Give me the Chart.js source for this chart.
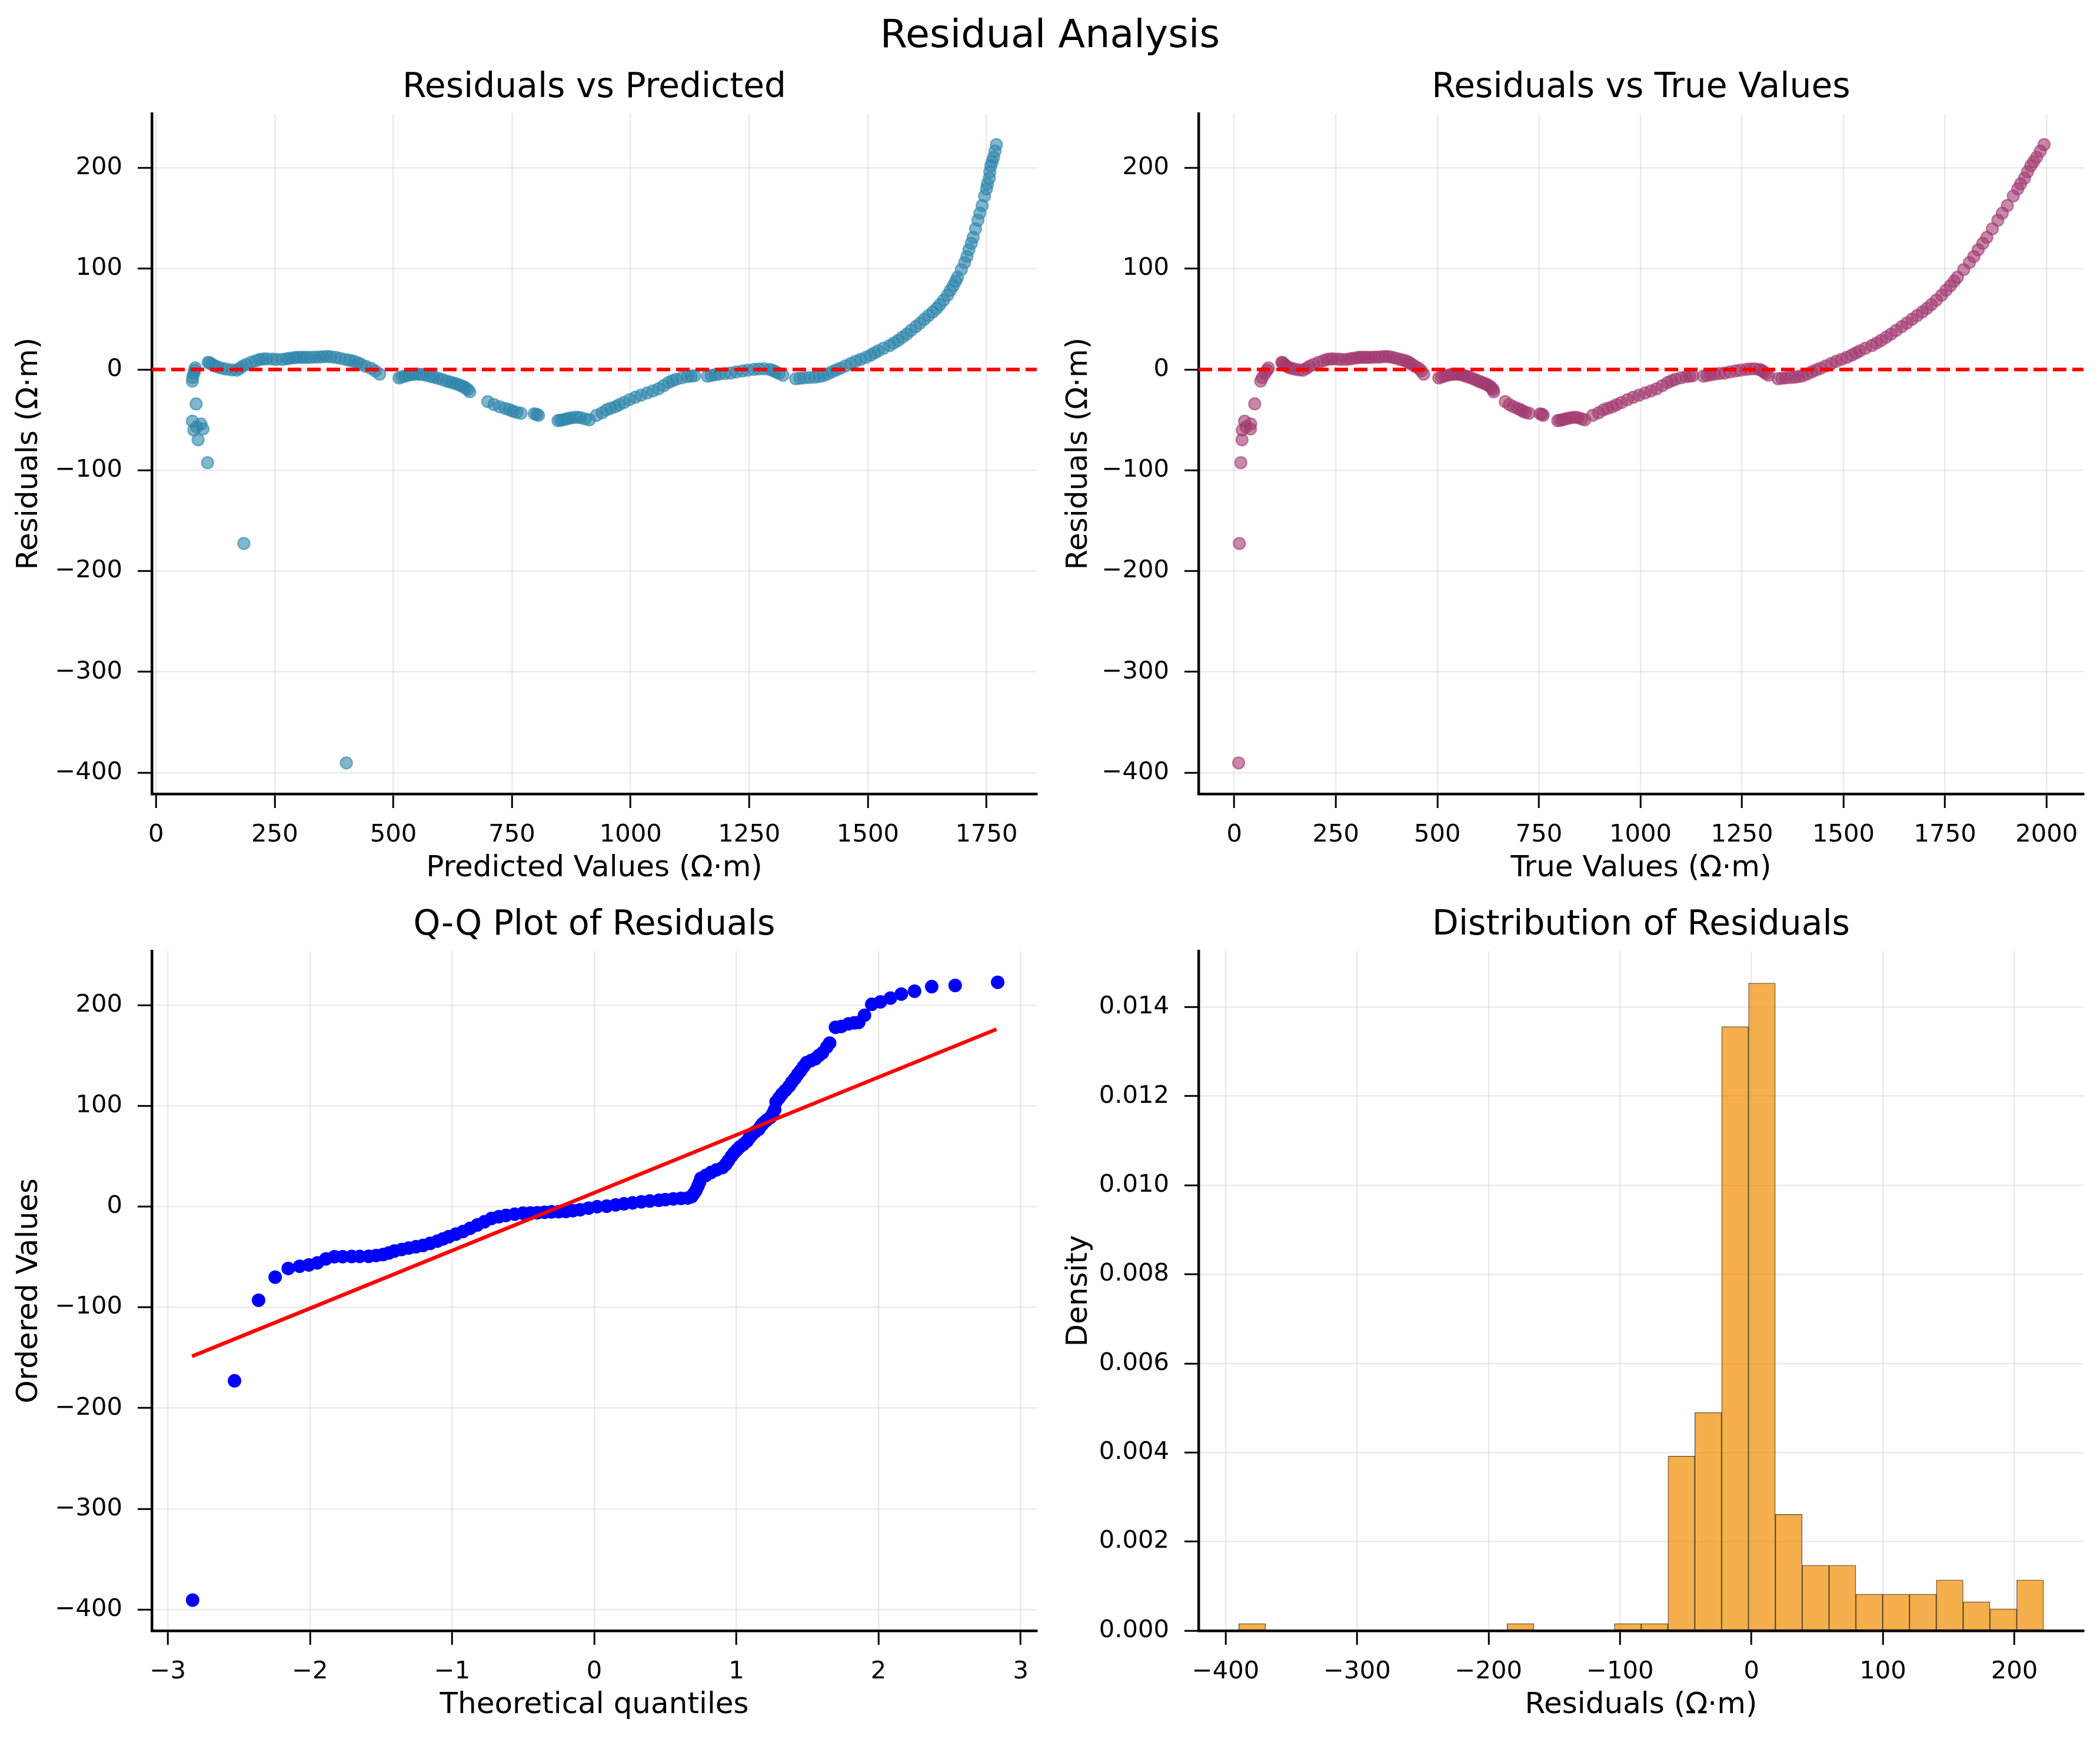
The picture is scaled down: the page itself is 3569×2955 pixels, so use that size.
<!DOCTYPE html>
<html>
<head>
<meta charset="utf-8">
<title>Residual Analysis</title>
<script src="https://cdn.jsdelivr.net/npm/chart.js@4.4.1/dist/chart.umd.min.js"></script>
<style>
  body { margin: 0; background: #fff; width: 3569px; height: 2955px; position: relative; overflow: hidden; }
  #suptitle { position: absolute; left: 0; top: 24px; width: 3569px; text-align: center;
              font: 66.7px/66.7px 'DejaVu Sans', sans-serif; color: #000; }
  canvas { position: absolute; }
</style>
</head>
<body>
<div id="suptitle">Residual Analysis</div>
<canvas id="c1" width="1782" height="1424" style="left:0;top:90px;width:1782px;height:1424px"></canvas>
<canvas id="c2" width="1777" height="1424" style="left:1784px;top:90px;width:1777px;height:1424px"></canvas>
<canvas id="c3" width="1782" height="1423" style="left:0;top:1513px;width:1782px;height:1423px"></canvas>
<canvas id="c4" width="1777" height="1423" style="left:1784px;top:1513px;width:1777px;height:1423px"></canvas>
<script>
// predicted value and residual of each sample
const predicted = [
  76.5, 77, 79.6, 81.4, 82.6, 84.4, 76.5, 79.6, 85.6, 94.6, 98.8, 88.6, 108.5, 185, 401,
  109.7, 113, 118, 124, 131, 140, 149, 160, 170, 176, 182, 190, 200, 210, 218, 226, 233, 245,
  254, 266, 275, 281, 290, 296, 304, 311, 318, 326, 335, 344, 352, 360, 368, 378, 388, 399,
  408, 417, 425, 432, 442, 453, 462, 471,
  512, 518, 525, 533, 540, 546, 554, 561, 570, 578, 585, 594, 603, 612, 620, 627, 634, 641,
  647, 652, 657, 661,
  699, 712, 724, 736, 745, 752, 760, 769, 797, 802, 806,
  847, 852, 858, 864, 870, 878, 886, 894, 904, 913, 928, 940, 949, 958, 968, 976, 986, 998,
  1010, 1022, 1035, 1047, 1059, 1070, 1080, 1088, 1096, 1108, 1120, 1128, 1135,
  1162, 1170, 1178, 1187, 1199, 1211, 1223, 1236, 1247, 1260, 1270, 1281, 1293, 1300, 1306,
  1313, 1321, 1348, 1357, 1366, 1377, 1388, 1397, 1406, 1415, 1424, 1433, 1442, 1453, 1464,
  1474, 1485, 1496, 1506, 1514, 1522, 1533, 1546, 1555, 1564, 1573, 1582, 1591, 1601, 1610,
  1619, 1628, 1637, 1645, 1652, 1660, 1668, 1674, 1680, 1685, 1689, 1697, 1704, 1709, 1713,
  1718, 1722, 1727, 1732, 1736, 1741, 1746, 1750, 1752, 1756, 1757, 1759, 1762, 1765, 1768, 1771
];
const residuals = [
  -11.5, -8, -4, -0.8, 1.5, -34.2, -51.3, -60.1, -57, -54.2, -59, -69.8, -92.5, -172.6, -390.3,
  7, 6.5, 5, 3.5, 2.2, 1, 0.2, -0.5, -0.8, 1, 3, 5, 7, 8.5, 9.9, 10.4, 10.5, 10.2,
  9.9, 9.9, 10.5, 10.9, 11.5, 11.9, 12, 11.9, 12, 12, 12.2, 12.3, 12.6, 12.9, 12.5, 11.9, 11, 9.9,
  9, 8, 6.5, 5.1, 3, 1.2, -1.5, -4.7,
  -8.5, -7.5, -6.6, -5.5, -4.9, -4.7, -4.8, -5, -5.8, -6.8, -7.6, -8.8, -10, -11.5, -12.5, -13.5, -14.4, -15.8,
  -17, -18.3, -20, -22.2,
  -31.9, -34.8, -37, -38.7, -40, -41.5, -42.6, -43.5, -44, -44.5, -45.5,
  -50.8, -50.3, -50, -49.2, -48.4, -47.8, -47.4, -47.8, -49, -50, -45.5, -43, -40.1, -38.5, -37, -35, -32.8, -30,
  -27.6, -25.5, -23.4, -21.3, -19.2, -16, -13, -11.3, -9.8, -8.3, -7.1, -6.6, -6.3,
  -6.7, -6, -5.3, -4.6, -4.1, -3.6, -2.5, -1.5, -0.7, 0, 0.5, 0.6, 0, -1, -2.5,
  -4, -5.7, -9.2, -8.8, -8.4, -8, -7.8, -7, -6.3, -4.5, -2.5, -0.6, 1.2, 3.5, 5.8,
  8, 10, 12, 14.2, 16.3, 18.4, 21, 23.6, 26.2, 28.8, 32, 35, 38.7, 42.4, 46,
  49.7, 53.4, 57, 60.5, 64.3, 68.8, 73.7, 78.5, 83, 87.5, 91.5, 99, 106, 112, 118.6,
  125, 131, 139.5, 148, 155, 162.5, 172, 179, 184, 189.7, 196, 202, 206, 210.5, 216.5, 223
];

// Q-Q plot: theoretical quantiles and ordered residuals, plus the fitted line ends
const qqTheoretical = [
  -2.826, -2.531, -2.362, -2.245, -2.153, -2.073, -2.008, -1.948, -1.888, -1.828, -1.77, -1.707,
  -1.65, -1.587, -1.535, -1.486, -1.445, -1.406, -1.355, -1.305, -1.255, -1.205, -1.155, -1.104,
  -1.064, -1.024, -0.974, -0.924, -0.874, -0.823, -0.773, -0.723, -0.672, -0.622, -0.56, -0.502,
  -0.45, -0.401, -0.35, -0.301, -0.25, -0.2, -0.15, -0.1, -0.04, 0.02, 0.087, 0.15, 0.209, 0.27,
  0.331, 0.39, 0.454, 0.5, 0.556, 0.61, 0.658, 0.685, 0.698, 0.715, 0.729, 0.74, 0.75, 0.785,
  0.821, 0.86, 0.902, 0.925, 0.943, 0.965, 0.984, 1.005, 1.024, 1.05, 1.075, 1.09, 1.106, 1.13,
  1.157, 1.172, 1.187, 1.21, 1.238, 1.255, 1.269, 1.279, 1.3, 1.32, 1.345, 1.371, 1.39, 1.412,
  1.432, 1.452, 1.472, 1.493, 1.525, 1.555, 1.58, 1.605, 1.636, 1.656, 1.697, 1.738, 1.789, 1.83,
  1.86, 1.901, 1.952, 2.013, 2.084, 2.16, 2.253, 2.374, 2.539, 2.838
];
const qqOrdered = [
  -390.6, -172.9, -92.9, -70, -61.4, -59.2, -57.9, -55.8, -51.9, -49.7, -49.7, -49.5,
  -49.4, -49.3, -48.5, -47.6, -46, -44.1, -42.5, -41.1, -39.8, -38.5, -36.5, -34.2,
  -32, -29.9, -27.3, -24.7, -21.5, -18.2, -15, -11.7, -10, -8.7, -7.5, -6.5,
  -6.3, -6.1, -5.6, -5.2, -5, -4.8, -4, -3.1, -1.5, 0, 0.5, 1.7, 2.8, 3.8,
  4.8, 5.6, 6.3, 7, 7.7, 8.2, 8.6, 10, 12.5, 16, 20.3, 24, 28.1, 31,
  33.9, 36.5, 38.8, 42, 45.6, 50, 53.4, 56.5, 59.3, 62, 65.1, 68, 70.9, 74,
  76.8, 80, 82.6, 85.5, 88.5, 92, 96.2, 104, 108, 111.8, 115.5, 119.6, 123.5, 127.4,
  131.5, 135.1, 139, 142.9, 145, 146.8, 150, 152.7, 158.5, 162.4, 178, 178.9, 181.5, 182.5,
  182.8, 190, 200.9, 203.3, 207.1, 211, 213.9, 218.4, 219.6, 222.7
];
const qqLineX = [-2.83, 2.83];
const qqLineY = [-148.6, 176.2];

// histogram of residuals: 30 bins, density per bin
const histEdges = [
  -390.0, -369.6, -349.2, -328.8, -308.4, -288.0, -267.5, -247.1, -226.7, -206.3, -185.9,
  -165.5, -145.1, -124.7, -104.3, -83.9, -63.5, -43.1, -22.7, -2.3, 18.2, 38.6, 59.0,
  79.4, 99.8, 120.2, 140.6, 161.0, 181.4, 201.8, 222.2
];
const histDensity = [
  0.00016, 0, 0, 0, 0, 0, 0, 0, 0, 0, 0.00016, 0, 0, 0, 0.00016, 0.00016,
  0.00392, 0.0049, 0.01356, 0.01454, 0.00261, 0.00147, 0.00147, 0.00082, 0.00082, 0.00082,
  0.00114, 0.00065, 0.00049, 0.00114
];

Chart.defaults.font.family = "'DejaVu Sans', sans-serif";
Chart.defaults.color = '#000';

const minus = v => (v < 0 ? '\u2212' + Math.abs(v) : String(v));

function axis(kind, cfg) {
  const isY = kind === 'y';
  return {
    type: 'linear',
    position: isY ? 'left' : 'bottom',
    min: cfg.min,
    max: cfg.max,
    offset: false,
    ticks: {
      stepSize: cfg.step, includeBounds: false, autoSkip: false, maxRotation: 0,
      font: { size: 41.7 }, color: '#000', padding: isY ? 26 : 21,
      callback: cfg.fmt || minus
    },
    grid: {
      offset: false, color: 'rgba(176,176,176,0.25)', lineWidth: 2.5,
      drawTicks: true, tickLength: 24, tickWidth: 3, tickColor: '#000'
    },
    border: { display: true, color: '#000', width: 4.5 },
    title: { display: true, text: cfg.title, font: { size: 50 }, color: '#000', padding: { top: 20, bottom: 8 } },
    afterFit: s => {
      if (isY) { s.width = cfg.size; s.paddingTop = 0; s.paddingBottom = 0; }
      else { s.height = 165; s.paddingLeft = 0; s.paddingRight = 0; }
    }
  };
}

function options(title, x, y) {
  return {
    responsive: false,
    animation: false,
    devicePixelRatio: 1,
    layout: { padding: { left: 0, right: 20, top: 0, bottom: 0 } },
    plugins: {
      legend: { display: false },
      tooltip: { enabled: false },
      title: {
        display: true, fullSize: false, text: title,
        font: { size: 58.3, weight: 'normal' }, color: '#000', padding: { top: 25, bottom: 8 }
      }
    },
    scales: { x: x, y: y }
  };
}

function zeroLine(xmin, xmax) {
  return {
    showLine: true, data: [{ x: xmin, y: 0 }, { x: xmax, y: 0 }],
    borderColor: '#ff0000', borderWidth: 6.25, borderDash: [23, 10], pointRadius: 0, order: 1
  };
}

const resY = { min: -421, max: 253.8, step: 100 };

// Residuals vs Predicted
new Chart(document.getElementById('c1'), {
  type: 'scatter',
  data: {
    datasets: [
      zeroLine(-9, 1856),
      {
        data: predicted.map((p, i) => ({ x: p, y: residuals[i] })),
        backgroundColor: 'rgba(46,134,171,0.6)', borderColor: 'rgba(46,134,171,0.6)',
        borderWidth: 2.5, pointRadius: 10, order: 2
      }
    ]
  },
  options: options('Residuals vs Predicted',
    axis('x', { min: -9, max: 1856, step: 250, title: 'Predicted Values (Ω·m)' }),
    axis('y', Object.assign({ title: 'Residuals (Ω·m)', size: 258 }, resY)))
});

// Residuals vs True Values (true = predicted + residual)
new Chart(document.getElementById('c2'), {
  type: 'scatter',
  data: {
    datasets: [
      zeroLine(-88, 2091),
      {
        data: predicted.map((p, i) => ({ x: p + residuals[i], y: residuals[i] })),
        backgroundColor: 'rgba(162,59,114,0.6)', borderColor: 'rgba(162,59,114,0.6)',
        borderWidth: 2.5, pointRadius: 10, order: 2
      }
    ]
  },
  options: options('Residuals vs True Values',
    axis('x', { min: -88, max: 2091, step: 250, title: 'True Values (Ω·m)' }),
    axis('y', Object.assign({ title: 'Residuals (Ω·m)', size: 253 }, resY)))
});

// Q-Q plot
new Chart(document.getElementById('c3'), {
  type: 'scatter',
  data: {
    datasets: [
      {
        showLine: true, data: qqLineX.map((x, i) => ({ x: x, y: qqLineY[i] })),
        borderColor: '#ff0000', borderWidth: 6.25, pointRadius: 0, order: 1
      },
      {
        data: qqTheoretical.map((x, i) => ({ x: x, y: qqOrdered[i] })),
        backgroundColor: '#0000ff', borderWidth: 0, pointRadius: 11.5, order: 2
      }
    ]
  },
  options: options('Q-Q Plot of Residuals',
    axis('x', { min: -3.113, max: 3.113, step: 1, title: 'Theoretical quantiles' }),
    axis('y', Object.assign({ title: 'Ordered Values', size: 258 }, resY)))
});

// Distribution of residuals
const bars = histDensity
  .map((d, i) => ({ x: (histEdges[i] + histEdges[i + 1]) / 2, y: d }))
  .filter(b => b.y > 0);

new Chart(document.getElementById('c4'), {
  type: 'bar',
  data: {
    datasets: [{
      data: bars,
      backgroundColor: 'rgba(241,143,1,0.7)', borderColor: 'rgba(0,0,0,0.7)',
      borderWidth: 1, borderSkipped: false,
      barPercentage: 1, categoryPercentage: 1, grouped: false
    }]
  },
  options: options('Distribution of Residuals',
    axis('x', { min: -420.6, max: 252.6, step: 100, title: 'Residuals (Ω·m)' }),
    axis('y', { min: 0, max: 0.01526, step: 0.002, title: 'Density', size: 253, fmt: v => v.toFixed(3) }))
});
</script>
</body>
</html>
